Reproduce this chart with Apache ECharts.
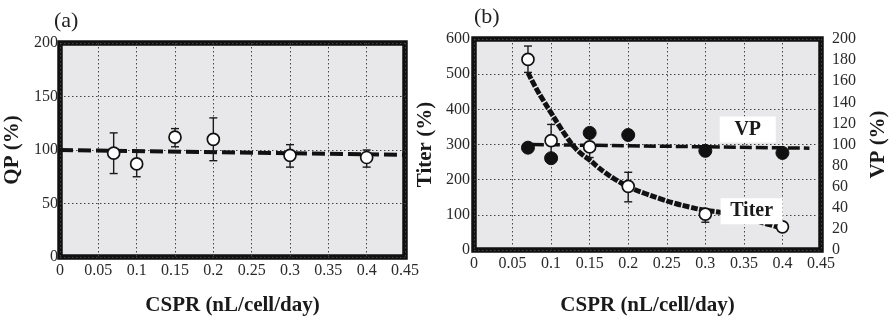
<!DOCTYPE html>
<html>
<head>
<meta charset="utf-8">
<script src="https://cdn.jsdelivr.net/npm/echarts@6/dist/echarts.min.js"></script>
<style>html,body{margin:0;padding:0;background:#fff;}#c{width:890px;height:321px;}</style>
</head>
<body>
<div id="c"></div>
<script>
// ---- data ----
const xTicks = [0, 0.05, 0.1, 0.15, 0.2, 0.25, 0.3, 0.35, 0.4, 0.45];
const cspr = [0.07, 0.1, 0.15, 0.2, 0.3, 0.4];

// (a) QP
const qpY = [97, 87, 112, 110, 95, 93];
const qpLow = [78, 75, 103, 90, 84, 84];
const qpHigh = [116, 98, 120, 130, 105, 100];
const qpFitX = [0, 0.45];
const qpFitY = [100, 95.5];

// (b) Titer
const titerY = [542, 311, 293, 181, 102, 66];
const titerLow = [505, 265, 263, 137, 79, 62];
const titerHigh = [580, 357, 320, 221, 116, 70];
const titerFitX = [0.07, 0.08, 0.09, 0.1, 0.11, 0.12, 0.13, 0.14, 0.15, 0.16, 0.17, 0.18, 0.19, 0.2, 0.22, 0.24, 0.26, 0.28, 0.3, 0.32, 0.34, 0.36, 0.38, 0.4];
const titerFitY = [504, 462, 425, 390, 355, 322, 293, 272, 256, 237, 220, 205, 192, 180, 162, 147, 133, 122, 113, 107, 98, 87, 74, 62];

// (b) VP
const vpY = [97, 87, 111, 109, 94, 92];
const vpFitX = [0.075, 0.435];
const vpFitY = [100, 96.5];

// annotation labels (data coords on titer axis)
const annot = [{name: 'VP', x: 0.355, y: 343, w: 46}, {name: 'Titer', x: 0.36, y: 110, w: 52}];

const FONT = 'Liberation Serif';
const chart = echarts.init(document.getElementById('c'));

const pairs = (xs, ys) => xs.map((x, i) => [x, ys[i]]);
const errData = (lo, hi) => cspr.map((x, i) => [x, lo[i], hi[i]]);

function errRender(params, api) {
  const x = api.value(0);
  const lo = api.coord([x, api.value(1)]);
  const hi = api.coord([x, api.value(2)]);
  const w = 4;
  const st = {stroke: '#1a1a1a', lineWidth: 1.4};
  return {type: 'group', children: [
    {type: 'line', shape: {x1: lo[0], y1: lo[1], x2: hi[0], y2: hi[1]}, style: st},
    {type: 'line', shape: {x1: lo[0] - w, y1: lo[1], x2: lo[0] + w, y2: lo[1]}, style: st},
    {type: 'line', shape: {x1: hi[0] - w, y1: hi[1], x2: hi[0] + w, y2: hi[1]}, style: st}
  ]};
}

const gridStyle = {show: true, backgroundColor: '#e8e8ea', borderColor: '#111', borderWidth: 5.5};
const split = {show: true, lineStyle: {color: '#444', width: 1, type: [1.5, 2.5]}};
const tickLbl = {fontFamily: FONT, fontSize: 16, color: '#2a2a2a'};
const nameStyle = {fontFamily: FONT, fontSize: 21, fontWeight: 'bold', color: '#1a1a1a'};

function xAxis(gi) {
  return {
    type: 'value', gridIndex: gi, min: 0, max: 0.45, interval: 0.05,
    axisLine: {show: false}, axisTick: {show: false},
    axisLabel: Object.assign({margin: 6, formatter: v => String(parseFloat(v.toFixed(2)))}, tickLbl),
    splitLine: split,
    name: 'CSPR (nL/cell/day)', nameLocation: 'middle', nameGap: gi === 0 ? 38 : 45,
    nameTextStyle: nameStyle
  };
}

chart.setOption({
  animation: false,
  grid: [
    Object.assign({left: 60, top: 43, width: 345, height: 222}, gridStyle),
    Object.assign({left: 474, top: 39, width: 349, height: 224}, gridStyle)
  ],
  title: [
    {text: '(a)', left: 49, top: 5, textStyle: {fontFamily: FONT, fontSize: 22, fontWeight: 'normal', color: '#222'}},
    {text: '(b)', left: 469, top: 1, textStyle: {fontFamily: FONT, fontSize: 22, fontWeight: 'normal', color: '#222'}}
  ],
  xAxis: [xAxis(0), xAxis(1)],
  yAxis: [
    {type: 'value', gridIndex: 0, min: 0, max: 200, interval: 50,
     axisLine: {show: false}, axisTick: {show: false},
     axisLabel: Object.assign({margin: 2}, tickLbl), splitLine: split,
     name: 'QP (%)', nameLocation: 'middle', nameGap: 37, nameTextStyle: nameStyle},
    {type: 'value', gridIndex: 1, min: 0, max: 600, interval: 100,
     axisLine: {show: false}, axisTick: {show: false},
     axisLabel: Object.assign({margin: 4}, tickLbl), splitLine: split,
     name: 'Titer (%)', nameLocation: 'middle', nameGap: 38, nameTextStyle: nameStyle},
    {type: 'value', gridIndex: 1, position: 'right', min: 0, max: 200, interval: 20,
     axisLine: {show: false}, axisTick: {show: false},
     axisLabel: Object.assign({margin: 11}, tickLbl), splitLine: {show: false},
     name: 'VP (%)', nameLocation: 'middle', nameGap: 47, nameTextStyle: nameStyle}
  ],
  series: [
    // (a)
    {type: 'line', xAxisIndex: 0, yAxisIndex: 0, data: pairs(qpFitX, qpFitY), symbol: 'none', z: 2,
     lineStyle: {color: '#111', width: 4, type: [13, 5]}},
    {type: 'custom', xAxisIndex: 0, yAxisIndex: 0, data: errData(qpLow, qpHigh), renderItem: errRender, z: 3},
    {type: 'scatter', xAxisIndex: 0, yAxisIndex: 0, data: pairs(cspr, qpY), symbol: 'circle', symbolSize: 12, z: 4,
     itemStyle: {color: '#fff', borderColor: '#111', borderWidth: 1.7, opacity: 1}},
    // (b) titer
    {type: 'line', xAxisIndex: 1, yAxisIndex: 1, data: pairs(titerFitX, titerFitY), symbol: 'none', smooth: true, z: 2,
     lineStyle: {color: '#111', width: 5, type: [7, 1.5]}},
    // (b) VP fit
    {type: 'line', xAxisIndex: 1, yAxisIndex: 2, data: pairs(vpFitX, vpFitY), symbol: 'none', z: 2,
     lineStyle: {color: '#111', width: 3.5, type: [12, 4]}},
    {type: 'custom', xAxisIndex: 1, yAxisIndex: 1, data: errData(titerLow, titerHigh), renderItem: errRender, z: 3},
    {type: 'scatter', xAxisIndex: 1, yAxisIndex: 2, data: pairs(cspr, vpY), symbol: 'circle', symbolSize: 13, z: 4,
     itemStyle: {color: '#111', borderColor: '#111', borderWidth: 1, opacity: 1}},
    {type: 'scatter', xAxisIndex: 1, yAxisIndex: 1, data: pairs(cspr, titerY), symbol: 'circle', symbolSize: 12, z: 5,
     itemStyle: {color: '#fff', borderColor: '#111', borderWidth: 1.7, opacity: 1}},
    // annotation boxes
    {type: 'scatter', xAxisIndex: 1, yAxisIndex: 1, symbolSize: 1, z: 6,
     itemStyle: {opacity: 0},
     data: annot.map(a => ({name: a.name, value: [a.x, a.y],
       label: {width: a.w}})),
     label: {show: true, position: 'inside', formatter: p => p.name, fontFamily: FONT, fontSize: 20, fontWeight: 'bold',
       color: '#1a1a1a', backgroundColor: '#fff', opacity: 1, align: 'center', padding: [4, 5, 2, 5]}}
  ]
});
</script>
</body>
</html>
